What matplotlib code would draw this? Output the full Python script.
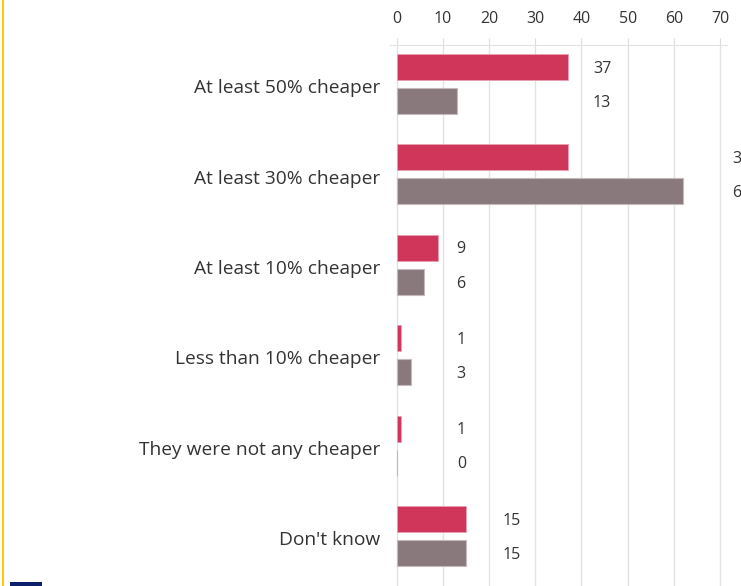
import matplotlib
matplotlib.use('Agg')
from matplotlib import pyplot as plt
from matplotlib.patches import Rectangle
from matplotlib.transforms import offset_copy

# ---------------------------------------- DATA ----------------------------------------
CATEGORIES = ['At least 50% cheaper', 'At least 30% cheaper', 'At least 10% cheaper',
              'Less than 10% cheaper', 'They were not any cheaper', "Don't know"]
SERIES_A = [37, 37, 9, 1, 1, 15]
SERIES_B = [13, 62, 6, 3, 0, 15]
X_TICKS = [0, 10, 20, 30, 40, 50, 60, 70]

# where the value labels sit (layout only)
LABEL_X = [42.5, 72.7, 12.8, 13, 13, 22.9]

RED = '#D0355A'
GREY = '#8A797C'
TEXT = '#333333'

plt.rcParams['font.family'] = ['Open Sans', 'DejaVu Sans']

fig = plt.figure(figsize=(7.41, 5.86), dpi=100)
ax = fig.add_axes([390 / 741, 0, 337 / 741, 1 - 45 / 586])

bar_h = 0.287
off = 0.188
ys = list(range(len(CATEGORIES)))
ax.barh([y - off for y in ys], SERIES_A, height=bar_h, color=RED,
        edgecolor='#e8a0b0', lw=0.6, zorder=3)
ax.barh([y + off for y in ys], SERIES_B, height=bar_h, color=GREY,
        edgecolor='#c4babc', lw=0.8, zorder=3)

down = offset_copy(ax.transData, fig=fig, x=0, y=-1.2, units='points')
for i, y in enumerate(ys):
    ax.text(LABEL_X[i], y - off, str(SERIES_A[i]), va='center', ha='left',
            fontsize=11.5, color=TEXT, clip_on=False, transform=down)
    ax.text(LABEL_X[i], y + off, str(SERIES_B[i]), va='center', ha='left',
            fontsize=11.5, color=TEXT, clip_on=False, transform=down)

# category names, drawn by hand so they can sit a touch low like the original
cat_tr = offset_copy(ax.transData, fig=fig, x=-12, y=-3, units='points')
for y, name in zip(ys, CATEGORIES):
    ax.text(0, y, name, transform=cat_tr, ha='right', va='center',
            fontsize=13.8, color=TEXT, clip_on=False)

ax.set_xlim(-1.45, 71.5)
ax.set_ylim(5.55, -0.43)
ax.set_xticks(X_TICKS)
ax.set_yticks([])
ax.xaxis.tick_top()
ax.tick_params(axis='x', length=5, color='#dddddd', labelsize=11.5, labelcolor=TEXT, pad=8)
ax.grid(axis='x', color='#e2e2e2', lw=1, zorder=0)
for s in ['left', 'right', 'bottom']:
    ax.spines[s].set_visible(False)
ax.spines['top'].set_color('#e2e2e2')

# frame bits of the cropped page
fig.add_artist(Rectangle((2 / 741, 0), 2 / 741, 1, transform=fig.transFigure,
                         color='#FFC800', lw=0))
fig.add_artist(Rectangle((10 / 741, 0), 32 / 741, 4 / 586, transform=fig.transFigure,
                         color='#0E1F6B', lw=0))

fig.savefig('out.png', dpi=100)
